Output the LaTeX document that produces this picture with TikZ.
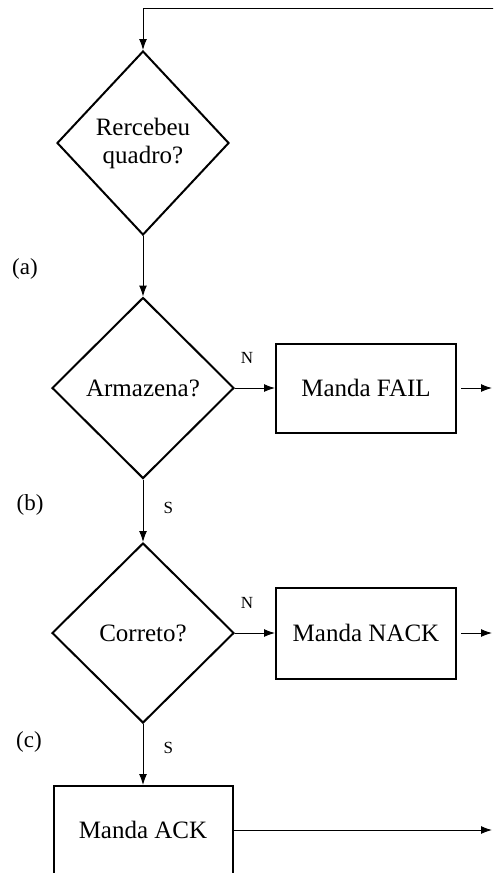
\documentclass[tikz,border=0pt]{standalone}
\usepackage{fontspec}
\setmainfont{Liberation Serif}
\usetikzlibrary{shapes.geometric,arrows.meta}
\begin{document}
\begin{tikzpicture}[x=0.5pt,y=-0.5pt,
  decision/.style={diamond,draw,line width=1pt,inner sep=0pt,align=center,font=\fontsize{12.5}{14}\selectfont},
  procbox/.style={rectangle,draw,line width=1pt,inner sep=0pt,font=\fontsize{12.5}{14}\selectfont},
  arr/.style={-{Latex[length=5.5pt,width=4pt]},line width=0.5pt},
  lbl/.style={font=\fontsize{8.5}{9}\selectfont,inner sep=0pt},
  tag/.style={font=\fontsize{11.5}{12}\selectfont,inner sep=0pt}]
\useasboundingbox (0,0) rectangle (493,873);
\clip (0,0) rectangle (493,873);
\node[decision,minimum width=86pt,minimum height=92pt] (d1) at (143,143) {Rercebeu\\quadro?};
\node[decision,minimum width=91pt,minimum height=90.5pt] (d2) at (143,388) {Armazena?};
\node[decision,minimum width=91pt,minimum height=90pt] (d3) at (143,633) {Correto?};
\node[procbox,minimum width=90pt,minimum height=44.5pt] (fail) at (366,388) {\raisebox{-2.5pt}{Manda FAIL}};
\node[procbox,minimum width=90pt,minimum height=45.5pt] (nack) at (366,633) {Manda NACK};
\node[procbox,minimum width=89.5pt,minimum height=44pt] (ack) at (143,830) {Manda ACK};
\coordinate (top) at (494,8);
\coordinate (o1) at (492,388);
\coordinate (o2) at (492,633);
\coordinate (o3) at (492,830);
\draw[arr] (top) -| (d1.north);
\draw[arr] (d1.south) -- (d2.north);
\draw[arr] (d2.south) -- node[lbl,right,xshift=10pt,pos=0.45] (s1) {S} (d3.north);
\draw[arr] (d3.south) -- node[lbl,right,xshift=10pt,pos=0.4] (s2) {S} (ack.north);
\draw[arr] (d2.east) -- node[lbl,above,yshift=12pt,pos=0.3] (n1) {N} (fail.west);
\draw[arr] (d3.east) -- node[lbl,above,yshift=12pt,pos=0.3] (n2) {N} (nack.west);
\draw[arr,shorten <=2pt] (fail.east) -- (o1);
\draw[arr,shorten <=2pt] (nack.east) -- (o2);
\draw[arr] (ack.east) -- (o3);
\node[tag] (ta) at (25,269) {(a)};
\node[tag] (tb) at (30,505) {(b)};
\node[tag] (tc) at (29,742) {(c)};
\end{tikzpicture}
\end{document}
